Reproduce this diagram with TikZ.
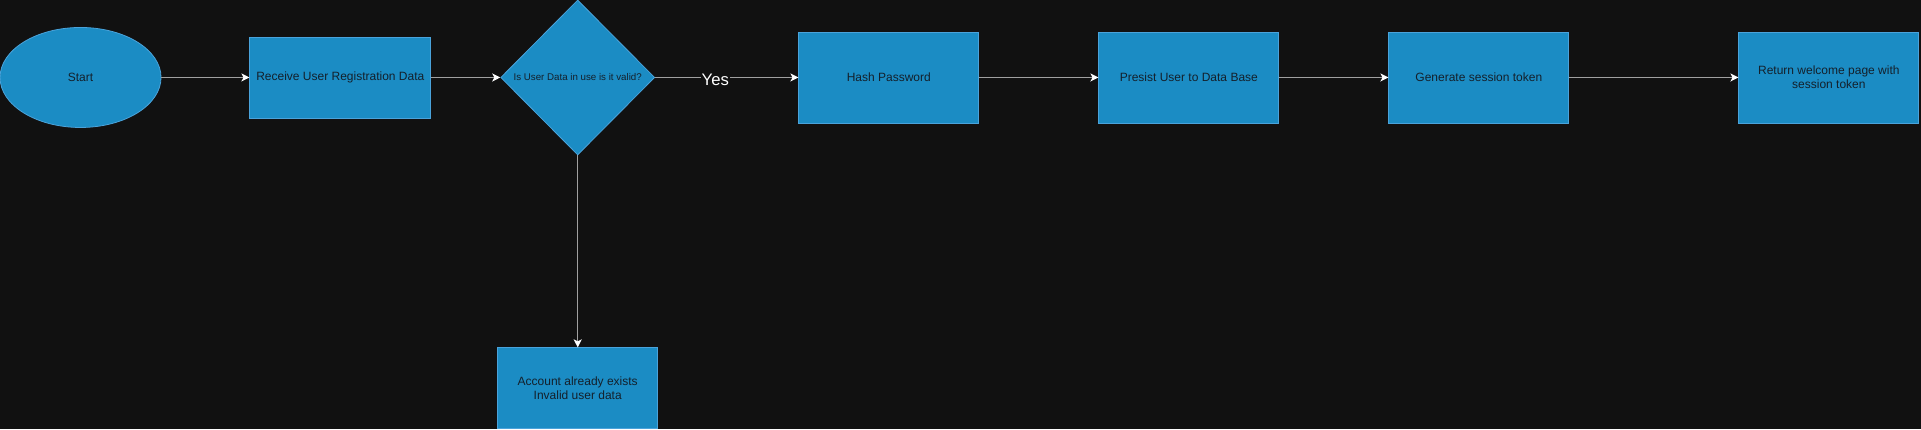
\documentclass[tikz,border=0pt]{standalone}
\usepackage{fontspec}
\setmainfont{Liberation Sans}
\usepackage{tikz}
\usetikzlibrary{arrows.meta, positioning, shapes.geometric, backgrounds}
\usepackage{xcolor}
\definecolor{canvasbg}{HTML}{111111}
\definecolor{flowfill}{HTML}{1B8CC4}
\definecolor{flowedge}{HTML}{4AA3DB}
\definecolor{flowtext}{HTML}{14202B}
\definecolor{flowline}{HTML}{A0A0A0}

\begin{document}
\begin{tikzpicture}[
    proc/.style={rectangle, draw=flowedge, line width=0.6pt, fill=flowfill,
                 minimum height=68.25pt, minimum width=135pt, align=center,
                 text=flowtext, font=\fontsize{9}{10.5}\selectfont, inner sep=2pt},
    term/.style={ellipse, draw=flowedge, line width=0.6pt, fill=flowfill,
                 minimum height=75pt, minimum width=120.75pt,
                 text=flowtext, font=\fontsize{9}{10.5}\selectfont},
    decide/.style={diamond, draw=flowedge, line width=0.6pt, fill=flowfill,
                 minimum height=116.25pt, minimum width=115.5pt, inner sep=0pt,
                 text=flowtext, font=\fontsize{7.3}{8}\selectfont},
    arr/.style={-{Stealth[length=6pt, width=6pt, inset=1.5pt, fill=white, color=white]},
                line width=1.1pt, flowline},
]
    \fill[canvasbg] (0,0) rectangle (1440.75pt,-321.75pt);
    \useasboundingbox (0,0) rectangle (1440.75pt,-321.75pt);

    \node[term] (start) at (60.4pt,-58.1pt) {Start};

    \node[proc, right=66pt of start, minimum height=60.75pt, minimum width=135.75pt] (receive)
        {Receive User Registration Data};

    \node[decide, right=51.8pt of receive] (valid) {Is User Data in use is it valid?};

    \node[proc, right=107.5pt of valid] (hash) {Hash Password};

    \node[proc, right=89.4pt of hash] (persist) {Presist User to Data Base};

    \node[proc, right=81.9pt of persist] (token) {Generate session token};

    \node[proc, right=126.9pt of token] (welcome)
        {Return welcome page with\\session token};

    \node[proc, below=144pt of valid, minimum height=60.75pt, minimum width=120pt] (invalid)
        {Account already exists\\Invalid user data};

    \draw[arr] (start) -- (receive);
    \draw[arr] (receive) -- (valid);
    \draw[arr] (valid) -- node[pos=0.42, yshift=-1.5pt, fill=canvasbg, text=white,
        inner sep=0.5pt, font=\fontsize{12.5}{13}\selectfont] (yes) {Yes} (hash);
    \draw[arr] (hash) -- (persist);
    \draw[arr] (persist) -- (token);
    \draw[arr] (token) -- (welcome);
    \draw[arr] (valid) -- (invalid);
\end{tikzpicture}
\end{document}
